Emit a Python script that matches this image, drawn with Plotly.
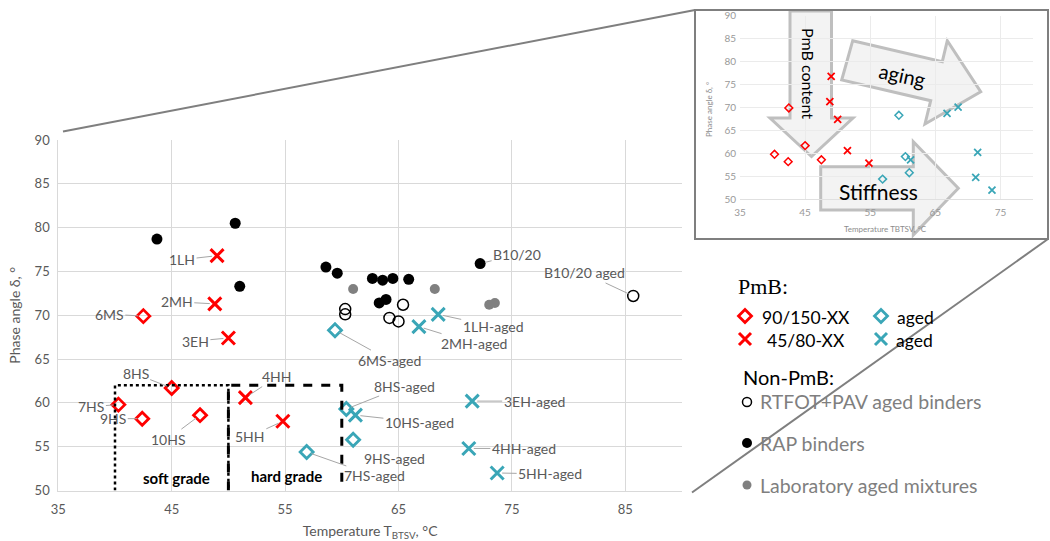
import plotly.graph_objects as go

# ---------------- data ----------------
# RAP binders
rap_temp = [43.7, 50.6, 51.0, 58.6, 59.6, 62.7, 63.6, 64.5, 65.9, 63.3, 63.9, 72.2]
rap_phase = [78.7, 80.5, 73.3, 75.5, 74.8, 74.2, 74.0, 74.2, 74.1, 71.4, 71.8, 75.9]
rap_names = ["", "", "", "", "", "", "", "", "", "", "", "B10/20"]

# laboratory aged mixtures
lab_temp = [61.0, 68.2, 73.0, 73.5]
lab_phase = [73.0, 73.0, 71.2, 71.4]

# RTFOT+PAV aged binders
rtfot_temp = [60.3, 60.3, 65.4, 64.2, 65.0, 85.7]
rtfot_phase = [70.7, 70.1, 71.2, 69.7, 69.3, 72.2]
rtfot_names = ["", "", "", "", "", "B10/20 aged"]

# PmB 90/150-XX (fresh)
soft_names = ["6MS", "8HS", "7HS", "9HS", "10HS"]
soft_temp = [42.5, 45.0, 40.3, 42.4, 47.5]
soft_phase = [69.9, 61.7, 59.8, 58.2, 58.6]

# PmB 45/80-XX (fresh)
hard_names = ["1LH", "2MH", "3EH", "4HH", "5HH"]
hard_temp = [49.0, 48.8, 50.0, 51.5, 54.8]
hard_phase = [76.8, 71.3, 67.4, 60.6, 57.9]

# aged PmB, diamonds
aged_d_names = ["6MS-aged", "8HS-aged", "9HS-aged", "7HS-aged"]
aged_d_temp = [59.4, 60.4, 61.0, 56.9]
aged_d_phase = [68.3, 59.3, 55.8, 54.4]

# aged PmB, crosses
aged_x_names = ["1LH-aged", "2MH-aged", "10HS-aged", "3EH-aged", "4HH-aged", "5HH-aged"]
aged_x_temp = [68.5, 66.8, 61.2, 71.5, 71.2, 73.7]
aged_x_phase = [70.1, 68.7, 58.6, 60.2, 54.8, 52.0]

# grade windows: (T min, T max, phase max)
soft_grade = [40, 50, 62]
hard_grade = [50, 60, 62]
grade_floor = 50

x_ticks = [35, 45, 55, 65, 75, 85]
inset_x_ticks = [35, 45, 55, 65, 75]

# ---------------- styling ----------------
W, H = 1050, 541
FONT = "Lato"
RED = "#FF0000"
TEAL = "#3AA6B7"
GREY_TXT = "#595959"
LEAD = "#A6A6A6"
CLEAR = "rgba(0,0,0,0)"

# pixel offsets of the point labels (text centre relative to the marker)
label_offsets = {
    "1LH": (-35, 4), "2MH": (-38, -2), "3EH": (-33, 3), "6MS": (-34, -2),
    "8HS": (-36, -14), "7HS": (-27, 2), "9HS": (-29, 0), "10HS": (-32, 24),
    "4HH": (32, -21), "5HH": (-33, 15),
    "6MS-aged": (54, 30), "1LH-aged": (55, 12), "2MH-aged": (55, 17),
    "B10/20": (37, -9), "B10/20 aged": (-49, -23),
    "8HS-aged": (58, -23), "10HS-aged": (64, 7), "3EH-aged": (62, 0),
    "9HS-aged": (41, 19), "4HH-aged": (55, 0), "7HS-aged": (68, 24),
    "5HH-aged": (53, 1),
}

fig = go.Figure()

# ---------------- main chart (x / y) ----------------
fig.add_trace(go.Scatter(x=lab_temp, y=lab_phase, mode="markers",
                         marker=dict(size=10, color="#808080"), xaxis="x", yaxis="y"))
fig.add_trace(go.Scatter(x=rtfot_temp, y=rtfot_phase, mode="markers",
                         marker=dict(size=11, symbol="circle-open", color="black",
                                     line=dict(width=1.5)), xaxis="x", yaxis="y"))
fig.add_trace(go.Scatter(x=rap_temp, y=rap_phase, mode="markers",
                         marker=dict(size=11, color="black"), xaxis="x", yaxis="y"))
fig.add_trace(go.Scatter(x=soft_temp, y=soft_phase, mode="markers",
                         marker=dict(size=10, symbol="diamond-open", color=RED,
                                     line=dict(width=2.8)), xaxis="x", yaxis="y"))
fig.add_trace(go.Scatter(x=hard_temp, y=hard_phase, mode="markers",
                         marker=dict(size=13, symbol="x-thin", color=RED,
                                     line=dict(width=3, color=RED)), xaxis="x", yaxis="y"))
fig.add_trace(go.Scatter(x=aged_d_temp, y=aged_d_phase, mode="markers",
                         marker=dict(size=10, symbol="diamond-open", color=TEAL,
                                     line=dict(width=2.8)), xaxis="x", yaxis="y"))
fig.add_trace(go.Scatter(x=aged_x_temp, y=aged_x_phase, mode="markers",
                         marker=dict(size=13, symbol="x-thin", color=TEAL,
                                     line=dict(width=3, color=TEAL)), xaxis="x", yaxis="y"))

# ---------------- pixel overlay (x2 / y2): legend glyphs ----------------
fig.add_trace(go.Scatter(x=[745], y=[316], mode="markers", xaxis="x2", yaxis="y2",
                         marker=dict(size=10, symbol="diamond-open", color=RED, line=dict(width=2.8))))
fig.add_trace(go.Scatter(x=[881], y=[316], mode="markers", xaxis="x2", yaxis="y2",
                         marker=dict(size=10, symbol="diamond-open", color=TEAL, line=dict(width=2.8))))
fig.add_trace(go.Scatter(x=[745], y=[339], mode="markers", xaxis="x2", yaxis="y2",
                         marker=dict(size=12, symbol="x-thin", color=RED, line=dict(width=3, color=RED))))
fig.add_trace(go.Scatter(x=[881], y=[339], mode="markers", xaxis="x2", yaxis="y2",
                         marker=dict(size=12, symbol="x-thin", color=TEAL, line=dict(width=3, color=TEAL))))
fig.add_trace(go.Scatter(x=[747], y=[402], mode="markers", xaxis="x2", yaxis="y2",
                         marker=dict(size=9, symbol="circle-open", color="black", line=dict(width=1.5))))
fig.add_trace(go.Scatter(x=[747], y=[443], mode="markers", xaxis="x2", yaxis="y2",
                         marker=dict(size=10, color="black")))
fig.add_trace(go.Scatter(x=[747], y=[485], mode="markers", xaxis="x2", yaxis="y2",
                         marker=dict(size=9, color="#808080")))

# ---------------- inset chart (x3 / y3) ----------------
fig.add_trace(go.Scatter(x=soft_temp, y=soft_phase, mode="markers",
                         marker=dict(size=6, symbol="diamond-open", color=RED,
                                     line=dict(width=1.5)), xaxis="x3", yaxis="y3"))
fig.add_trace(go.Scatter(x=hard_temp, y=hard_phase, mode="markers",
                         marker=dict(size=7, symbol="x-thin", color=RED,
                                     line=dict(width=1.8, color=RED)), xaxis="x3", yaxis="y3"))
fig.add_trace(go.Scatter(x=aged_d_temp, y=aged_d_phase, mode="markers",
                         marker=dict(size=6, symbol="diamond-open", color=TEAL,
                                     line=dict(width=1.5)), xaxis="x3", yaxis="y3"))
fig.add_trace(go.Scatter(x=aged_x_temp, y=aged_x_phase, mode="markers",
                         marker=dict(size=7, symbol="x-thin", color=TEAL,
                                     line=dict(width=1.8, color=TEAL)), xaxis="x3", yaxis="y3"))

annotations = []


def point_labels(names, xs, ys):
    for n, xv, yv in zip(names, xs, ys):
        if not n:
            continue
        ax, ay = label_offsets[n]
        annotations.append(dict(x=xv, y=yv, xref="x", yref="y", text=n,
                                showarrow=True, arrowhead=0, arrowwidth=1,
                                arrowcolor=LEAD, ax=ax, ay=ay, standoff=5,
                                font=dict(family=FONT, size=14, color=GREY_TXT)))


point_labels(soft_names, soft_temp, soft_phase)
point_labels(hard_names, hard_temp, hard_phase)
point_labels(aged_d_names, aged_d_temp, aged_d_phase)
point_labels(aged_x_names, aged_x_temp, aged_x_phase)
point_labels(rap_names, rap_temp, rap_phase)
point_labels(rtfot_names, rtfot_temp, rtfot_phase)

annotations += [
    dict(x=45.4, y=51.45, xref="x", yref="y", text="<b>soft grade</b>", showarrow=False,
         font=dict(family=FONT, size=15, color="black")),
    dict(x=55.1, y=51.65, xref="x", yref="y", text="<b>hard grade</b>", showarrow=False,
         font=dict(family=FONT, size=15, color="black")),
]


def px_text(x, y, text, size, color="black", family=FONT, angle=0, anchor="left"):
    annotations.append(dict(x=x, y=y, xref="x2", yref="y2", text=text, showarrow=False,
                            xanchor=anchor, yanchor="middle", textangle=angle,
                            font=dict(family=family, size=size, color=color)))


# legend text
px_text(736, 286, "PmB:", 22, family="Liberation Serif")
px_text(760, 317, "90/150-XX", 17.5)
px_text(895, 317, "aged", 17.5)
px_text(765, 340, "45/80-XX", 17.5)
px_text(894, 340, "aged", 17.5)
px_text(741, 377, "Non-PmB:", 20)
px_text(758, 401, "RTFOT+PAV aged binders", 19.5, color="#7F7F7F")
px_text(758, 443, "RAP binders", 19.5, color="#7F7F7F")
px_text(758, 485, "Laboratory aged mixtures", 19.5, color="#7F7F7F")

# inset block-arrow captions
px_text(809, 73, "PmB content", 16, angle=90, anchor="center")
px_text(902, 75, "aging", 20, angle=12, anchor="center")
px_text(878, 191, "Stiffness", 21, anchor="center")

# inset axis titles
px_text(709, 110, "Phase angle δ, °", 8, color="#8C8C8C", angle=-90, anchor="center")
px_text(885, 229, "Temperature TBTSV, °C", 8, color="#8C8C8C", anchor="center")


def path(points):
    return "M " + " L ".join(f"{x},{y}" for x, y in points) + " Z"


shapes = []
# grade windows in data coordinates
shapes.append(dict(type="path", xref="x", yref="y",
                   path=f"M {soft_grade[0]},{grade_floor} L {soft_grade[0]},{soft_grade[2]} "
                        f"L {soft_grade[1]},{soft_grade[2]} L {soft_grade[1]},{grade_floor}",
                   line=dict(color="black", width=2.5, dash="dot")))
shapes.append(dict(type="path", xref="x", yref="y",
                   path=f"M {hard_grade[0]},{grade_floor} L {hard_grade[0]},{hard_grade[2]} "
                        f"L {hard_grade[1]},{hard_grade[2]} L {hard_grade[1]},{grade_floor}",
                   line=dict(color="black", width=3, dash="dash")))

# zoom connector lines and inset frame
shapes.append(dict(type="line", xref="x2", yref="y2", x0=63, y0=131.5, x1=695, y1=10,
                   line=dict(color="#7F7F7F", width=2)))
shapes.append(dict(type="line", xref="x2", yref="y2", x0=692, y0=492.5, x1=1048, y1=239,
                   line=dict(color="#7F7F7F", width=2)))
shapes.append(dict(type="rect", xref="x2", yref="y2", x0=695, y0=10, x1=1048, y1=239,
                   line=dict(color="#7F7F7F", width=2)))

# block arrows sit beneath the inset markers
arrow_style = dict(type="path", xref="x2", yref="y2", layer="below",
                   fillcolor="rgba(242,242,242,0.9)", line=dict(color="#BFBFBF", width=3))
# PmB content (down)
shapes.append(dict(path=path([(790, 11), (831.5, 11), (831.5, 118), (853, 118),
                              (811.5, 156.5), (770, 118), (790, 118)]), **arrow_style))
# aging (tilted right)
shapes.append(dict(path=path([(852.7, 40.7), (942.3, 61.7), (947.3, 40.7), (980.7, 91.7),
                              (925, 124), (930.7, 100.7), (841.7, 80)]), **arrow_style))
# Stiffness (right)
shapes.append(dict(path=path([(820.7, 166.7), (913.3, 166.7), (913.3, 141.7), (958.3, 188.3),
                              (913.3, 235), (913.3, 210), (820.7, 210)]), **arrow_style))

axis_font = dict(family=FONT, size=13, color=GREY_TXT)
fig.update_layout(
    width=W, height=H,
    margin=dict(l=0, r=0, t=0, b=0),
    paper_bgcolor="white", plot_bgcolor=CLEAR,
    showlegend=False,
    xaxis=dict(domain=[58.3 / W, 682 / W], range=[35, 90], tickvals=x_ticks,
               showgrid=True, gridcolor="#D9D9D9", gridwidth=1,
               showline=True, linecolor="#D9D9D9", linewidth=1, zeroline=False,
               ticks="", tickfont=axis_font, automargin=False, ticklabelstandoff=7,
               title=dict(text="Temperature T<sub>BTSV</sub>, °C",
                          font=dict(family=FONT, size=14, color=GREY_TXT), standoff=10),
               anchor="y"),
    yaxis=dict(domain=[1 - 490.5 / H, 1 - 140 / H], range=[50, 90], dtick=5,
               showgrid=True, gridcolor="#D9D9D9", gridwidth=1,
               showline=True, linecolor="#D9D9D9", linewidth=1, zeroline=False,
               ticks="", tickfont=axis_font, automargin=False, ticklabelstandoff=5,
               title=dict(text="Phase angle δ, °",
                          font=dict(family=FONT, size=14, color=GREY_TXT), standoff=10),
               anchor="x"),
    xaxis2=dict(domain=[0, 1], range=[0, W], visible=False, fixedrange=True, anchor="y2"),
    yaxis2=dict(domain=[0, 1], range=[H, 0], visible=False, fixedrange=True, anchor="x2"),
    xaxis3=dict(domain=[740 / W, 1033 / W], range=[35, 80], tickvals=inset_x_ticks,
                showgrid=True, gridcolor="#EBEBEB", showline=True, linecolor="#E0E0E0",
                zeroline=False, ticks="", automargin=False, ticklabelstandoff=4,
                tickfont=dict(family=FONT, size=10, color="#999999"), anchor="y3"),
    yaxis3=dict(domain=[1 - 199.3 / H, 1 - 15.7 / H], range=[50, 90], dtick=5,
                showgrid=True, gridcolor="#EBEBEB", showline=False,
                zeroline=False, ticks="", automargin=False, ticklabelstandoff=3,
                tickfont=dict(family=FONT, size=10, color="#999999"), anchor="x3"),
    annotations=annotations,
    shapes=shapes,
)

fig.write_html("out.html")
